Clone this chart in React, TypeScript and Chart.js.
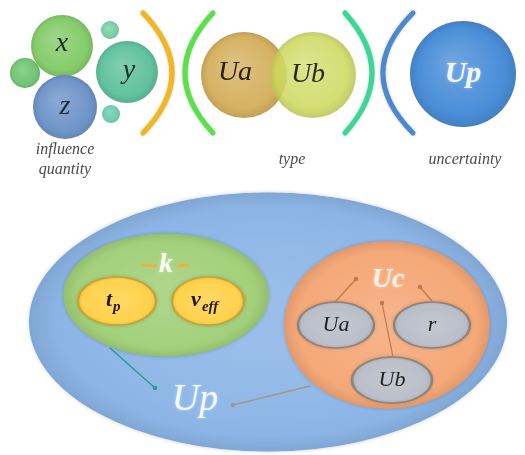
import React, { useEffect, useRef } from "react";
import { Chart, registerables } from "chart.js";
Chart.register(...registerables);

const W = 525;
const H = 455;

// Top row circles
const circleX = [62, 110, 25, 127, 65, 111, 244, 313, 463];
const circleY = [46, 30, 73, 72, 107, 114, 75, 75, 74];
const circleR = [31, 9, 15, 31, 32, 9, 43, 43, 53];
const circleColors = ["#86cc6c", "#78cfa6", "#72c474", "#62c2a0", "#6f95c9", "#6fcdb0", "#d6b262", "#cdd85a", "#4a8ed8"];
const circleAlpha = [1, 1, 1, 1, 1, 1, 1, 0.85, 1];

// Bracket arcs
const arcX0 = [143, 213, 345, 413];
const arcXm = [172, 185, 372, 383];
const arcY0 = 13;
const arcY1 = 133;
const arcColors = ["#f2b61e", "#5ae048", "#38d896", "#4a88d0"];

// Bottom ellipses
const ellX = [268, 166, 117, 208, 387, 336, 432, 392];
const ellY = [322, 295, 301, 301, 325, 325, 325, 380];
const ellRX = [238, 102, 39, 36, 102, 38, 38, 40];
const ellRY = [129, 61, 24, 24, 83, 23, 23, 23];
const ellColors = ["#8cb5e6", "#a2d07a", "#ffd24c", "#ffd24c", "#f5a878", "#b9bec8", "#b9bec8", "#b9bec8"];
const ellStroke = ["#7aa6dc", "#90c46a", "#c9a236", "#c9a236", "#e8996a", "#8c8478", "#8c8478", "#8c8478"];

// Connector lines [x0,y0,x1,y1]
const lineSeg = [
  [110, 348, 155, 388],
  [310, 386, 233, 405],
  [335, 302, 356, 279],
  [393, 357, 382, 303],
  [432, 301, 420, 287],
  [143, 265, 156, 266],
  [178, 266, 188, 265],
];
const lineColors = ["#2a9a9a", "#a09890", "#c07850", "#c07850", "#c07850", "#f0b040", "#f0b040"];
const lineWidths = [1.5, 1.5, 1.2, 1.2, 1.2, 3, 3];

// Text labels
const textStr = ["x", "y", "z", "Ua", "Ub", "Up", "influence", "quantity", "type", "uncertainty", "k", "Up", "Uc", "Ua", "r", "Ub"];
const textX = [62, 129, 65, 235, 308, 463, 65, 65, 292, 465, 166, 195, 388, 336, 432, 392];
const textY = [44, 71, 107, 73, 75, 74, 150, 170, 160, 160, 265, 400, 280, 325, 325, 380];
const textSize = [28, 28, 28, 28, 28, 30, 16, 16, 16, 16, 28, 38, 28, 22, 22, 22];
const textColor = ["#1c2a22", "#1c2a22", "#1c2a3a", "#2a2010", "#2a2a10", "#f0f6ff", "#4a4a4a", "#4a4a4a", "#4a4a4a", "#4a4a4a", "#fbfff0", "#f4f9ff", "#fff1e2", "#222", "#222", "#222"];
const textBold = [0, 0, 0, 0, 0, 1, 0, 0, 0, 0, 1, 0, 1, 0, 0, 0];

// Subscripted labels
const subMain = ["t", "v"];
const subSub = ["p", "eff"];
const subX = [113, 200];
const subY = [300, 300];

function shade(hex: string, amt: number): string {
  const n = parseInt(hex.slice(1), 16);
  let r = (n >> 16) & 255, g = (n >> 8) & 255, b = n & 255;
  const f = (c: number) => Math.max(0, Math.min(255, Math.round(amt >= 0 ? c + (255 - c) * amt : c * (1 + amt))));
  return `rgb(${f(r)},${f(g)},${f(b)})`;
}

const FONT = "'Liberation Serif', 'DejaVu Serif', serif";

const diagramPlugin = {
  id: "diagram",
  beforeDatasetsDraw(chart: any) {
    const ctx = chart.ctx;
    const xs = chart.scales.x;
    const ys = chart.scales.y;
    // arcs
    for (let i = 0; i < arcX0.length; i++) {
      const x0 = xs.getPixelForValue(arcX0[i]);
      const xm = xs.getPixelForValue(arcXm[i]);
      const y0 = ys.getPixelForValue(arcY0);
      const y1 = ys.getPixelForValue(arcY1);
      const cx = 2 * xm - x0;
      ctx.save();
      ctx.strokeStyle = arcColors[i];
      ctx.lineWidth = 5;
      ctx.lineCap = "round";
      ctx.shadowColor = "rgba(0,0,0,0.25)";
      ctx.shadowBlur = 3;
      ctx.beginPath();
      ctx.moveTo(x0, y0);
      ctx.quadraticCurveTo(cx, (y0 + y1) / 2, x0, y1);
      ctx.stroke();
      ctx.restore();
    }
    // ellipses
    for (let i = 0; i < ellX.length; i++) {
      const cx = xs.getPixelForValue(ellX[i]);
      const cy = ys.getPixelForValue(ellY[i]);
      const rx = Math.abs(xs.getPixelForValue(ellX[i] + ellRX[i]) - cx);
      const ry = Math.abs(ys.getPixelForValue(ellY[i] + ellRY[i]) - cy);
      ctx.save();
      ctx.translate(cx, cy);
      ctx.scale(1, ry / rx);
      const g = ctx.createRadialGradient(0, 0, rx * 0.2, 0, 0, rx);
      g.addColorStop(0, shade(ellColors[i], 0.12));
      g.addColorStop(0.85, ellColors[i]);
      g.addColorStop(1, shade(ellColors[i], -0.08));
      ctx.shadowColor = "rgba(0,0,0,0.25)";
      ctx.shadowBlur = 4;
      ctx.beginPath();
      ctx.arc(0, 0, rx, 0, Math.PI * 2);
      ctx.fillStyle = g;
      ctx.fill();
      ctx.shadowBlur = 0;
      ctx.lineWidth = (i >= 2 ? 1.5 : 1) * (rx / ry);
      ctx.strokeStyle = ellStroke[i];
      ctx.stroke();
      ctx.restore();
    }
  },
  afterDatasetsDraw(chart: any) {
    const ctx = chart.ctx;
    const xs = chart.scales.x;
    const ys = chart.scales.y;
    // lines
    for (let i = 0; i < lineSeg.length; i++) {
      const [a, b, c, d] = lineSeg[i];
      const x0 = xs.getPixelForValue(a), y0 = ys.getPixelForValue(b);
      const x1 = xs.getPixelForValue(c), y1 = ys.getPixelForValue(d);
      ctx.save();
      ctx.strokeStyle = lineColors[i];
      ctx.lineWidth = lineWidths[i];
      ctx.lineCap = "round";
      ctx.beginPath();
      ctx.moveTo(x0, y0);
      ctx.lineTo(x1, y1);
      ctx.stroke();
      if (i < 5) {
        ctx.fillStyle = lineColors[i];
        ctx.beginPath();
        ctx.arc(x1, y1, 2.2, 0, Math.PI * 2);
        ctx.fill();
      }
      ctx.restore();
    }
    // text
    for (let i = 0; i < textStr.length; i++) {
      ctx.save();
      ctx.font = `italic ${textBold[i] ? "bold " : ""}${textSize[i]}px ${FONT}`;
      ctx.fillStyle = textColor[i];
      ctx.textAlign = "center";
      ctx.textBaseline = "middle";
      if (textBold[i] || i === 11) {
        ctx.shadowColor = "rgba(255,255,255,0.5)";
        ctx.shadowBlur = 3;
      }
      ctx.fillText(textStr[i], xs.getPixelForValue(textX[i]), ys.getPixelForValue(textY[i]));
      ctx.restore();
    }
    // subscripted
    for (let i = 0; i < subMain.length; i++) {
      ctx.save();
      ctx.fillStyle = "#1e1a10";
      ctx.textBaseline = "alphabetic";
      ctx.textAlign = "left";
      const x = xs.getPixelForValue(subX[i]);
      const y = ys.getPixelForValue(subY[i]);
      ctx.font = `italic bold 22px ${FONT}`;
      const w = ctx.measureText(subMain[i]).width;
      ctx.fillText(subMain[i], x - w / 2 - 4, y + 6);
      ctx.font = `italic bold 15px ${FONT}`;
      ctx.fillText(subSub[i], x + w / 2 - 3, y + 11);
      ctx.restore();
    }
  },
};

export default function App() {
  const ref = useRef<HTMLCanvasElement>(null);
  useEffect(() => {
    const prevMargin = document.body.style.margin;
    document.body.style.margin = "0";
    const data = circleX.map((x, i) => ({ x, y: circleY[i], r: circleR[i] }));
    const chart = new Chart(ref.current as HTMLCanvasElement, {
      type: "bubble",
      data: {
        datasets: [
          {
            data,
            clip: false,
            backgroundColor: (c: any) => {
              const i = c.dataIndex;
              if (i === undefined || !c.chart.chartArea) return circleColors[0];
              const xs = c.chart.scales.x;
              const ys = c.chart.scales.y;
              const cx = xs.getPixelForValue(circleX[i]);
              const cy = ys.getPixelForValue(circleY[i]);
              const r = circleR[i];
              const g = c.chart.ctx.createRadialGradient(cx - r * 0.2, cy - r * 0.25, r * 0.1, cx, cy, r);
              const a = circleAlpha[i];
              const base = circleColors[i];
              const toA = (s: string) => (a < 1 ? s.replace("rgb(", "rgba(").replace(")", `,${a})`) : s);
              g.addColorStop(0, toA(shade(base, 0.18)));
              g.addColorStop(0.8, toA(shade(base, 0)));
              g.addColorStop(1, toA(shade(base, -0.1)));
              return g;
            },
            borderWidth: 0,
            borderColor: "rgba(0,0,0,0)",
          },
        ],
      },
      options: {
        responsive: false,
        animation: false,
        events: [],
        layout: { padding: 0, autoPadding: false },
        plugins: { legend: { display: false }, tooltip: { enabled: false } },
        scales: {
          x: { type: "linear", min: 0, max: W, display: false, offset: false },
          y: { type: "linear", min: 0, max: H, reverse: true, display: false, offset: false },
        },
      },
      plugins: [diagramPlugin],
    } as any);
    return () => {
      chart.destroy();
      document.body.style.margin = prevMargin;
    };
  }, []);
  return (
    <div style={{ position: "absolute", left: 0, top: 0, width: W, height: H, background: "#fff" }}>
      <canvas ref={ref} width={W} height={H} style={{ display: "block", width: W, height: H }} />
    </div>
  );
}
